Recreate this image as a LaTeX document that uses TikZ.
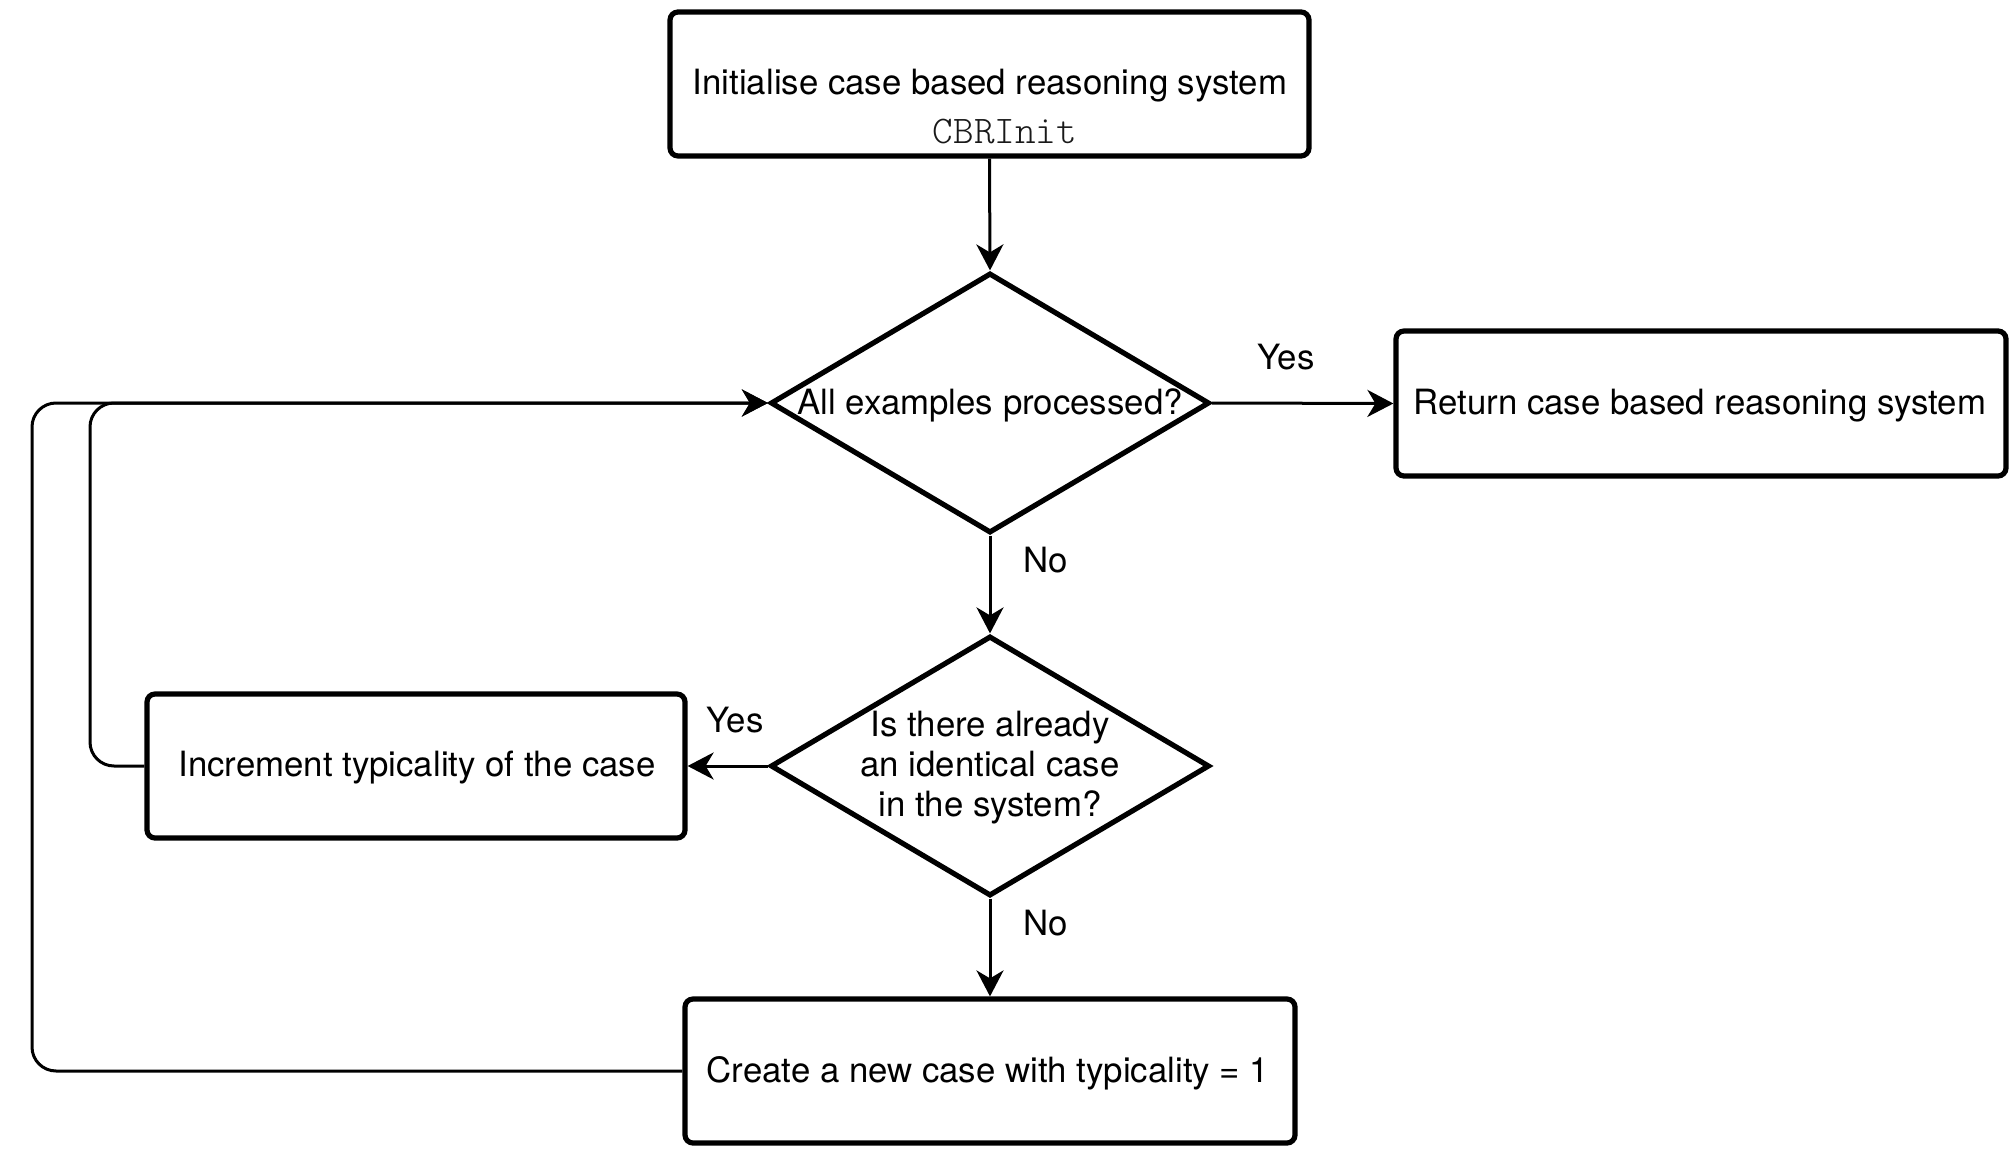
\documentclass[tikz,border=0pt]{standalone}
\usepackage{fontspec}
\setmainfont{TeX Gyre Heros}
\newfontfamily\cbrmono{Latin Modern Mono Light}
\usetikzlibrary{shapes.geometric,arrows.meta}
\begin{document}
\begin{tikzpicture}[x=0.5pt,y=-0.5pt,
  every node/.style={font=\fontsize{17.4pt}{20pt}\selectfont},
  procbox/.style={draw,line width=2.6pt,rounded corners=4pt,inner sep=0pt},
  decision/.style={draw,shape=diamond,line width=2.6pt,inner sep=0pt,minimum width=219.5pt,minimum height=130pt},
  conn/.style={line width=1.5pt},
  arr/.style={conn,-{Stealth[length=13pt,width=13.5pt,inset=4pt]}},
  lbl/.style={inner sep=0pt}]
\useasboundingbox (0,0) rectangle (2010,1156);

\node[procbox,minimum width=319.5pt,minimum height=72pt] (init) at (989.5,84) {};
\node[lbl] (initt) at (990,86) {Initialise case based reasoning system};
\node[lbl,font=\cbrmono\fontsize{19.6pt}{20pt}\selectfont,text=black!90] (initc) at (1005,132) {CBRInit};

\node[decision] (d1) at (990,403) {};
\node[lbl] (d1t) at (990,405) {All examples processed?};

\node[procbox,minimum width=305pt,minimum height=72.5pt] (ret) at (1701,403.5) {};
\node[lbl] (rett) at (1700,405.5) {Return case based reasoning system};

\node[decision] (d2) at (990,766) {};
\node[lbl,align=center] (d2t) at (990,768) {Is there already\\an identical case\\in the system?};

\node[procbox,minimum width=269pt,minimum height=72pt] (inc) at (416,766) {};
\node[lbl] (inct) at (417,768) {Increment typicality of the case};

\node[procbox,minimum width=305pt,minimum height=72pt] (new) at (990,1071) {};
\node[lbl] (newt) at (988,1073) {Create a new case with typicality = 1};

\node[lbl] (yes1) at (1286,357) {Yes};
\node[lbl] (no1) at (1046,560) {No};
\node[lbl] (yes2) at (735,720) {Yes};
\node[lbl] (no2) at (1046,923) {No};

\draw[arr] (init.south) -- (d1.north);
\draw[arr] (d1.east) -- (ret.west);
\draw[arr] (d1.south) -- (d2.north);
\draw[arr] (d2.west) -- (inc.east);
\draw[arr] (d2.south) -- (new.north);

\coordinate (innerx) at (90,0);
\coordinate (outerx) at (32,0);
\draw[arr,rounded corners=12pt] (inc.west) -| (innerx |- d1.west) -- (d1.west);
\draw[arr,rounded corners=12pt] (new.west) -| (outerx |- d1.west) -- (d1.west);
\end{tikzpicture}
\end{document}
